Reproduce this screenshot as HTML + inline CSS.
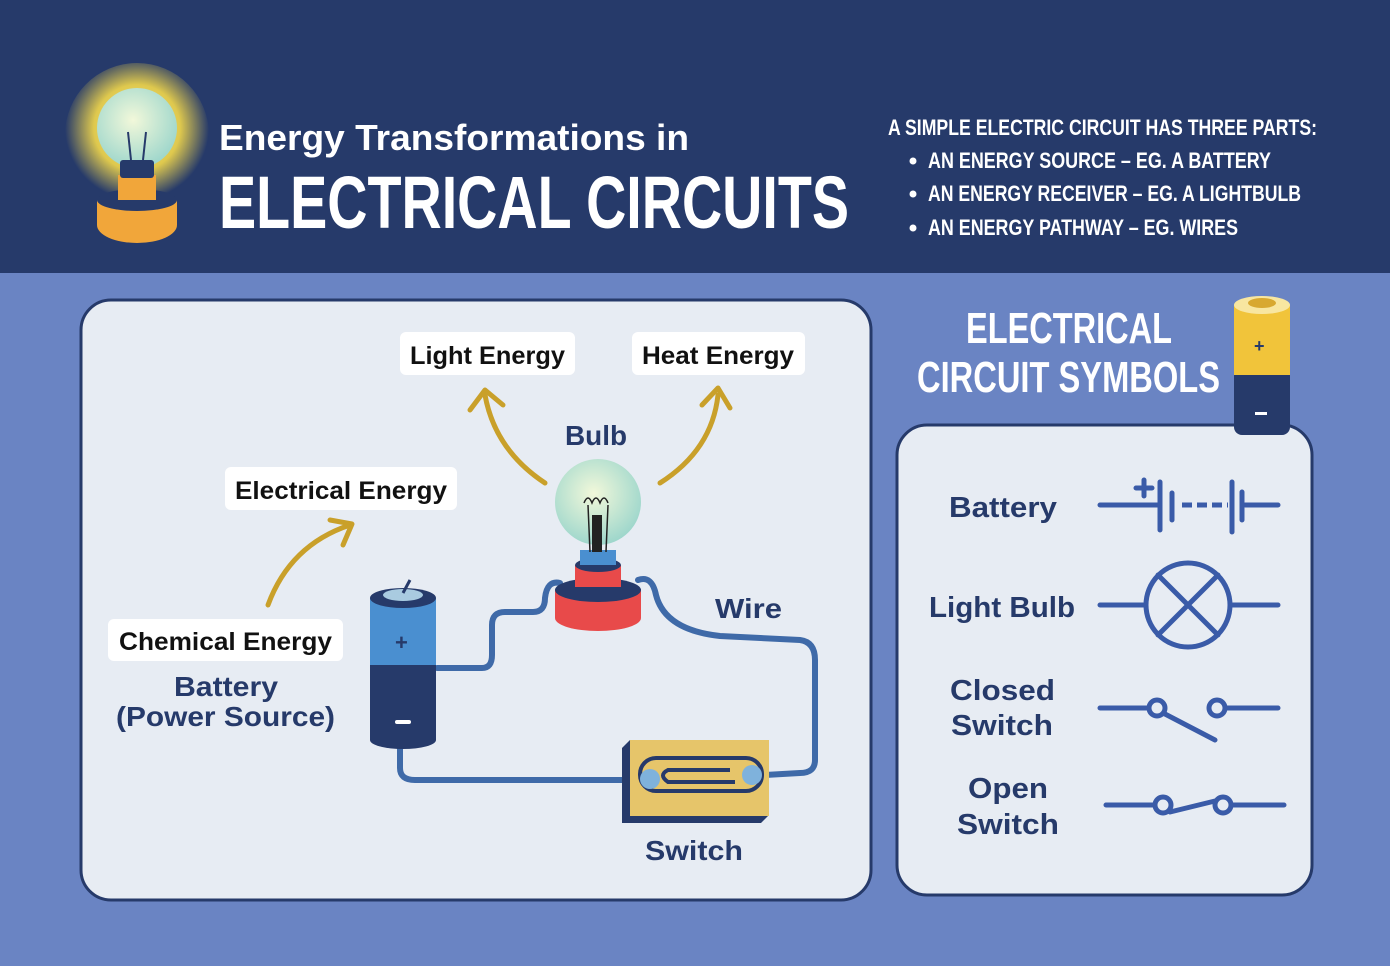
<!DOCTYPE html>
<html><head><meta charset="utf-8"><style>
html,body{margin:0;padding:0;}
body{width:1390px;height:966px;overflow:hidden;background:#6a84c3;}
svg{display:block;}
text{font-family:"Liberation Sans",sans-serif;font-weight:bold;}
.n{font-family:"Liberation Sans Narrow","Liberation Sans",sans-serif;}
</style></head><body>
<svg width="1390" height="966" viewBox="0 0 1390 966" xmlns="http://www.w3.org/2000/svg">
<defs>
<radialGradient id="glow" cx="0.5" cy="0.45" r="0.5"><stop offset="0" stop-color="#fff4a0"/><stop offset="0.6" stop-color="#f3d84a" stop-opacity="0.9"/><stop offset="1" stop-color="#f3d84a" stop-opacity="0"/></radialGradient>
<radialGradient id="glass" cx="0.45" cy="0.4" r="0.6"><stop offset="0" stop-color="#f2f8da"/><stop offset="1" stop-color="#9fd7cc"/></radialGradient>
</defs>
<rect x="0" y="0" width="1390" height="273" fill="#263a6a"/>
<!-- header bulb -->
<circle cx="137" cy="135" r="72" fill="url(#glow)"/>
<ellipse cx="137" cy="225" rx="40" ry="18" fill="#f1a63a"/>
<rect x="97" y="200" width="80" height="25" fill="#f1a63a"/>
<ellipse cx="137" cy="200" rx="40" ry="11" fill="#263a6a"/>
<rect x="118" y="175" width="38" height="25" fill="#f1a63a"/>
<circle cx="137" cy="128" r="40" fill="url(#glass)"/>
<rect x="120" y="160" width="34" height="18" fill="#263a6a" rx="3"/>
<path d="M131 160 L128 132 M143 160 L146 132" stroke="#263a6a" stroke-width="2" fill="none"/>
<text x="219" y="150" font-size="36" fill="#fff" textLength="470" lengthAdjust="spacingAndGlyphs">Energy Transformations in</text>
<text x="219" y="228" font-size="74" fill="#fff" class="n" textLength="630" lengthAdjust="spacingAndGlyphs">ELECTRICAL CIRCUITS</text>
<text x="888" y="135" font-size="22" fill="#fff" class="n" textLength="429" lengthAdjust="spacingAndGlyphs">A SIMPLE ELECTRIC CIRCUIT HAS THREE PARTS:</text>
<circle cx="913" cy="161" r="3.5" fill="#fff"/><circle cx="913" cy="194" r="3.5" fill="#fff"/><circle cx="913" cy="228" r="3.5" fill="#fff"/>
<text x="928" y="168" font-size="22" fill="#fff" class="n" textLength="343" lengthAdjust="spacingAndGlyphs">AN ENERGY SOURCE – EG. A BATTERY</text>
<text x="928" y="201" font-size="22" fill="#fff" class="n" textLength="373" lengthAdjust="spacingAndGlyphs">AN ENERGY RECEIVER – EG. A LIGHTBULB</text>
<text x="928" y="235" font-size="22" fill="#fff" class="n" textLength="310" lengthAdjust="spacingAndGlyphs">AN ENERGY PATHWAY – EG. WIRES</text>

<!-- left panel -->
<rect x="81" y="300" width="790" height="600" rx="30" fill="#e7ecf3" stroke="#263a6a" stroke-width="3"/>
<rect x="400" y="332" width="175" height="43" rx="6" fill="#fff"/>
<text x="410" y="364" font-size="25" fill="#111" textLength="155" lengthAdjust="spacingAndGlyphs">Light Energy</text>
<rect x="632" y="332" width="173" height="43" rx="6" fill="#fff"/>
<text x="642" y="364" font-size="25" fill="#111" textLength="152" lengthAdjust="spacingAndGlyphs">Heat Energy</text>
<rect x="225" y="467" width="232" height="43" rx="6" fill="#fff"/>
<text x="235" y="499" font-size="25" fill="#111" textLength="212" lengthAdjust="spacingAndGlyphs">Electrical Energy</text>
<rect x="108" y="619" width="235" height="42" rx="6" fill="#fff"/>
<text x="119" y="650" font-size="25" fill="#111" textLength="213" lengthAdjust="spacingAndGlyphs">Chemical Energy</text>
<text x="565" y="445" font-size="28" fill="#263a6a" textLength="62" lengthAdjust="spacingAndGlyphs">Bulb</text>
<text x="715" y="618" font-size="28" fill="#263a6a" textLength="67" lengthAdjust="spacingAndGlyphs">Wire</text>
<text x="645" y="860" font-size="28" fill="#263a6a" textLength="98" lengthAdjust="spacingAndGlyphs">Switch</text>
<text x="174" y="696" font-size="28" fill="#263a6a" textLength="104" lengthAdjust="spacingAndGlyphs">Battery</text>
<text x="116" y="726" font-size="28" fill="#263a6a" textLength="219" lengthAdjust="spacingAndGlyphs">(Power Source)</text>
<g stroke="#c9a02a" stroke-width="5" fill="none" stroke-linecap="round" stroke-linejoin="round">
<path d="M545 483 Q495 450 485 395"/><path d="M470 410 L485 390 L503 405"/>
<path d="M660 483 Q712 450 718 395"/><path d="M702 405 L718 388 L730 408"/>
<path d="M268 605 Q290 545 350 525"/><path d="M330 520 L352 524 L343 545"/>
</g>
<g stroke="#3f6aa8" stroke-width="6" fill="none" stroke-linecap="round">
<path d="M437 668 L482 668 Q492 668 492 655 L492 625 Q492 612 505 612 L533 612 Q545 612 545 598 Q547 580 560 583"/>
<path d="M638 580 Q652 575 656 595 Q665 630 720 636 L800 640 Q815 642 815 660 L815 760 Q815 773 800 773 L765 775"/>
<path d="M400 745 L400 768 Q400 780 415 780 L640 780"/>
</g>
<ellipse cx="403" cy="740" rx="33" ry="9" fill="#263a6a"/>
<rect x="370" y="665" width="66" height="75" fill="#263a6a"/>
<rect x="370" y="598" width="66" height="67" fill="#4a8fd0"/>
<ellipse cx="403" cy="598" rx="33" ry="10" fill="#263a6a"/>
<ellipse cx="403" cy="595" rx="20" ry="6" fill="#a9cbe0"/>
<path d="M403 593 L410 580" stroke="#263a6a" stroke-width="3"/>
<text x="395" y="650" font-size="22" fill="#263a6a">+</text>
<rect x="395" y="720" width="16" height="4" rx="2" fill="#fff"/>
<ellipse cx="598" cy="618" rx="43" ry="13" fill="#e84a4a"/>
<rect x="555" y="590" width="86" height="28" fill="#e84a4a"/>
<ellipse cx="598" cy="590" rx="43" ry="12" fill="#263a6a"/>
<rect x="575" y="565" width="46" height="22" fill="#e84a4a"/>
<ellipse cx="598" cy="565" rx="23" ry="7" fill="#263a6a"/>
<rect x="580" y="550" width="36" height="15" fill="#4a8fd0"/>
<circle cx="598" cy="502" r="43" fill="url(#glass)"/>
<path d="M590 552 L588 505 M606 552 L608 505" stroke="#222" stroke-width="1.5" fill="none"/>
<rect x="592" y="515" width="10" height="37" fill="#222"/>
<path d="M584 503 q4 -10 8 0 q4 -10 8 0 q4 -10 8 0" stroke="#222" fill="none" stroke-width="1.5"/>
<polygon points="622,748 630,740 769,740 769,815 761,823 622,823" fill="#263a6a"/>
<rect x="630" y="740" width="139" height="76" fill="#e6c56a"/>
<rect x="640" y="758" width="122" height="33" rx="16" fill="none" stroke="#263a6a" stroke-width="4"/>
<path d="M730 770 L668 770 Q658 775 668 782 L735 782" fill="none" stroke="#263a6a" stroke-width="4"/>
<circle cx="650" cy="779" r="10" fill="#7fb2dc"/><circle cx="752" cy="775" r="10" fill="#7fb2dc"/>

<text x="966" y="343" font-size="44" fill="#fff" class="n" textLength="206" lengthAdjust="spacingAndGlyphs">ELECTRICAL</text>
<text x="917" y="392" font-size="44" fill="#fff" class="n" textLength="303" lengthAdjust="spacingAndGlyphs">CIRCUIT SYMBOLS</text>
<rect x="897" y="425" width="415" height="470" rx="30" fill="#e7ecf3" stroke="#263a6a" stroke-width="3"/>
<rect x="1234" y="368" width="56" height="67" rx="8" fill="#263a6a"/>
<rect x="1234" y="305" width="56" height="70" fill="#f1c43a"/>
<ellipse cx="1262" cy="305" rx="28" ry="9" fill="#f8e6a0"/>
<ellipse cx="1262" cy="303" rx="14" ry="5" fill="#d8a830"/>
<text x="1254" y="352" font-size="18" fill="#263a6a">+</text>
<rect x="1255" y="412" width="12" height="3" fill="#fff"/>
<text x="949" y="517" font-size="29" fill="#263a6a" textLength="108" lengthAdjust="spacingAndGlyphs">Battery</text>
<text x="929" y="617" font-size="29" fill="#263a6a" textLength="146" lengthAdjust="spacingAndGlyphs">Light Bulb</text>
<text x="950" y="700" font-size="29" fill="#263a6a" textLength="105" lengthAdjust="spacingAndGlyphs">Closed</text>
<text x="951" y="735" font-size="29" fill="#263a6a" textLength="102" lengthAdjust="spacingAndGlyphs">Switch</text>
<text x="968" y="798" font-size="29" fill="#263a6a" textLength="80" lengthAdjust="spacingAndGlyphs">Open</text>
<text x="957" y="834" font-size="29" fill="#263a6a" textLength="102" lengthAdjust="spacingAndGlyphs">Switch</text>
<g stroke="#3a5ba8" stroke-width="5" fill="none" stroke-linecap="round">
<path d="M1100 505 L1158 505 M1160 482 L1160 530 M1172 493 L1172 520 M1232 482 L1232 532 M1242 492 L1242 520 M1245 505 L1278 505"/>
<path d="M1182 505 L1228 505" stroke-dasharray="10 5" stroke-linecap="butt"/>
<path d="M1136 488 L1152 488 M1144 480 L1144 496"/>
<circle cx="1188" cy="605" r="42"/><path d="M1100 605 L1145 605 M1231 605 L1278 605 M1158 575 L1218 635 M1218 575 L1158 635"/>
<path d="M1100 708 L1149 708 M1165 714 L1215 740 M1226 708 L1278 708"/>
<circle cx="1157" cy="708" r="8"/><circle cx="1217" cy="708" r="8"/>
<path d="M1106 805 L1154 805 M1170 812 L1215 801 M1231 805 L1284 805"/>
<circle cx="1163" cy="805" r="8"/><circle cx="1223" cy="805" r="8"/>
</g>
</svg>
</body></html>
